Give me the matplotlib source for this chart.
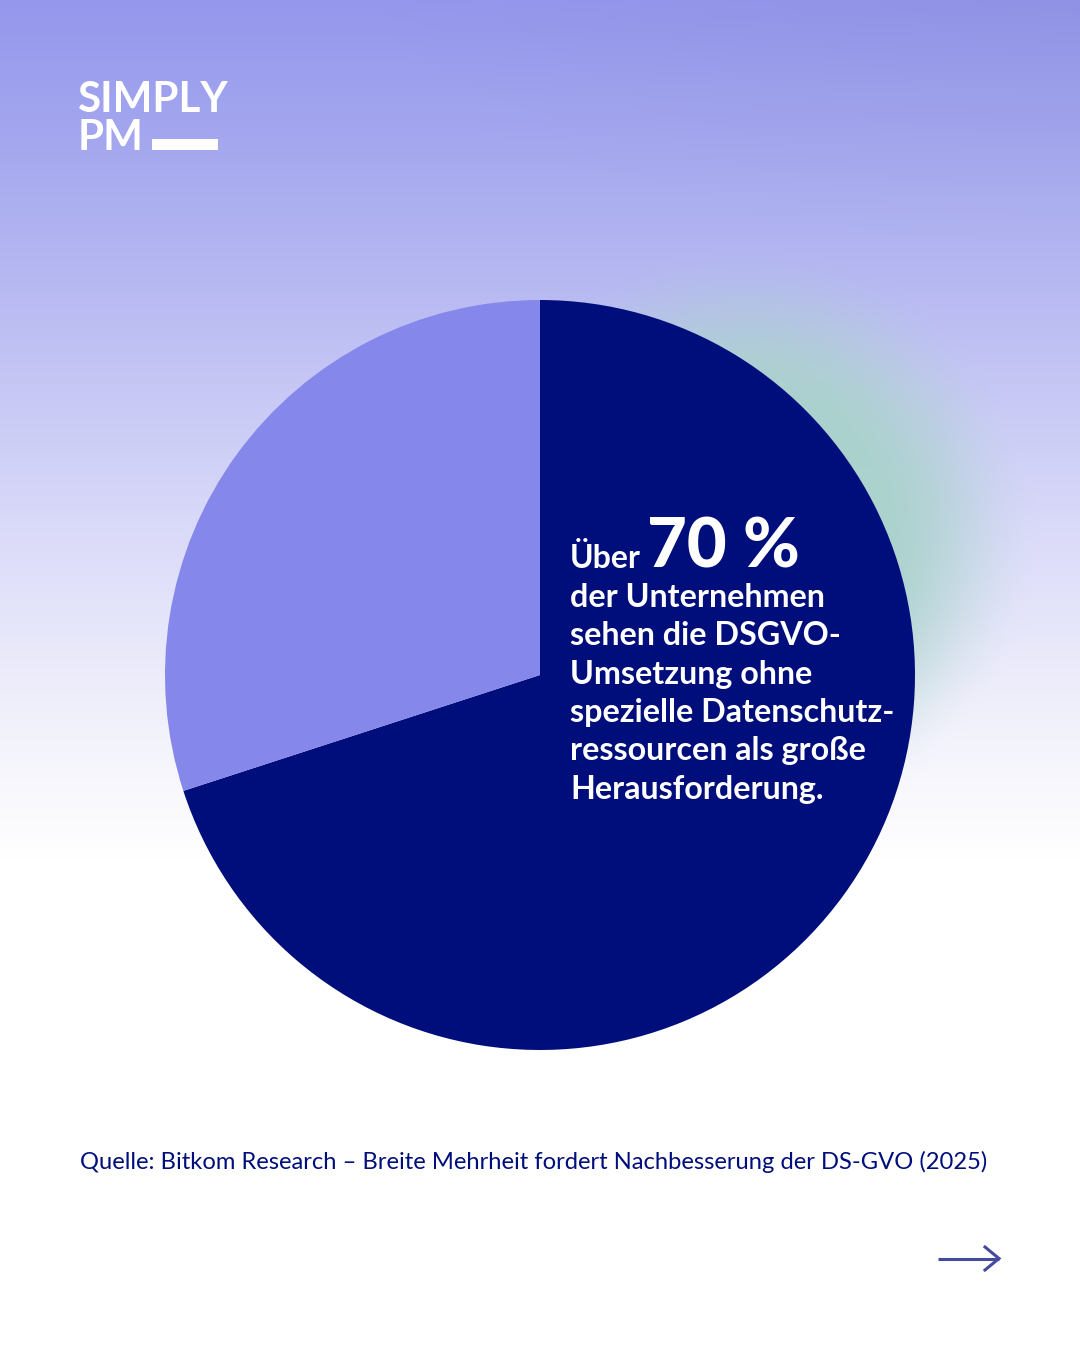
import numpy as np
import matplotlib
matplotlib.use('Agg')
import matplotlib.pyplot as plt
from matplotlib.colors import to_rgb

shares = [70, 30]
slice_colors = ['#000e7c', '#8687ea']
headline_prefix = 'Über'
headline_value = '70 %'
body_lines = ['der Unternehmen', 'sehen die DSGVO-', 'Umsetzung ohne',
              'spezielle Datenschutz-', 'ressourcen als große', 'Herausforderung.']
source = 'Quelle: Bitkom Research – Breite Mehrheit fordert Nachbesserung der DS-GVO (2025)'

W, H = 1080, 1350
fig = plt.figure(figsize=(W/100, H/100), dpi=100)
bg = fig.add_axes([0, 0, 1, 1], zorder=0)
bg.set_xlim(0, W); bg.set_ylim(H, 0); bg.axis('off')

yy, xx = np.mgrid[0:H, 0:W]
stops_y = [0, 130, 300, 420, 560, 700, 860, H]
stops_c = [to_rgb(c) for c in ['#9497ec', '#a3a6ee', '#b9bbf2', '#cbccf6', '#dedefa', '#efeffb', '#ffffff', '#ffffff']]
img = np.zeros((H, W, 3))
for i in range(3):
    img[..., i] = np.interp(yy, stops_y, [c[i] for c in stops_c])
d = np.hypot((xx - 1080) / 700, yy / 250)
img = img * (1 - 0.03 * np.clip(1 - d, 0, 1))[..., None]
r = np.hypot((xx - 745) / 300, (yy - 535) / 295)
a = np.clip((1 - r) / 0.55, 0, 1)
a = a * a * (3 - 2 * a) * 0.92
glow = np.array(to_rgb('#a8d2ca'))
img = img * (1 - a[..., None]) + glow * a[..., None]
bg.imshow(img, extent=(0, W, H, 0), aspect='auto', zorder=0, interpolation='bilinear')
bg.set_xlim(0, W); bg.set_ylim(H, 0)

pax = fig.add_axes([165/W, 1 - 1050/H, 750/W, 750/H], zorder=1)
pax.pie(shares, colors=slice_colors, startangle=90, counterclock=False, radius=1,
        wedgeprops={'linewidth': 0})
pax.set_xlim(-1, 1); pax.set_ylim(-1, 1)

top = fig.add_axes([0, 0, 1, 1], zorder=2)
top.set_xlim(0, W); top.set_ylim(H, 0); top.axis('off')
top.patch.set_alpha(0)

F = ['Lato', 'DejaVu Sans']
top.text(78, 112, 'SIMPLY', color='white', fontsize=30.3, family=F, fontweight='bold', va='baseline', ha='left')
top.text(78, 150, 'PM', color='white', fontsize=30.3, family=F, fontweight='bold', va='baseline', ha='left')
top.fill_between([152, 218], 139, 150, color='white', lw=0, zorder=3)

top.text(570, 568, headline_prefix, color='white', fontsize=23, family=F, fontweight='bold', va='baseline')
top.text(647, 567, headline_value, color='white', fontsize=49.5, family=F, fontweight='black', va='baseline')
ys = [607, 645, 684, 722, 760, 799]
for y, s in zip(ys, body_lines):
    top.text(570, y, s, color='white', fontsize=23.25, family=F, fontweight='bold', va='baseline')

top.text(80, 1169, source, color='#000e7c', fontsize=17.1, family=F, va='baseline')

arrow = '#444a9e'
top.plot([938, 999], [1258.5, 1258.5], color=arrow, lw=2.2, solid_capstyle='butt')
top.plot([985, 999, 985], [1247, 1258.5, 1270], color=arrow, lw=2.2, solid_joinstyle='miter')
top.set_xlim(0, W); top.set_ylim(H, 0)

fig.savefig('out.png', dpi=100)
